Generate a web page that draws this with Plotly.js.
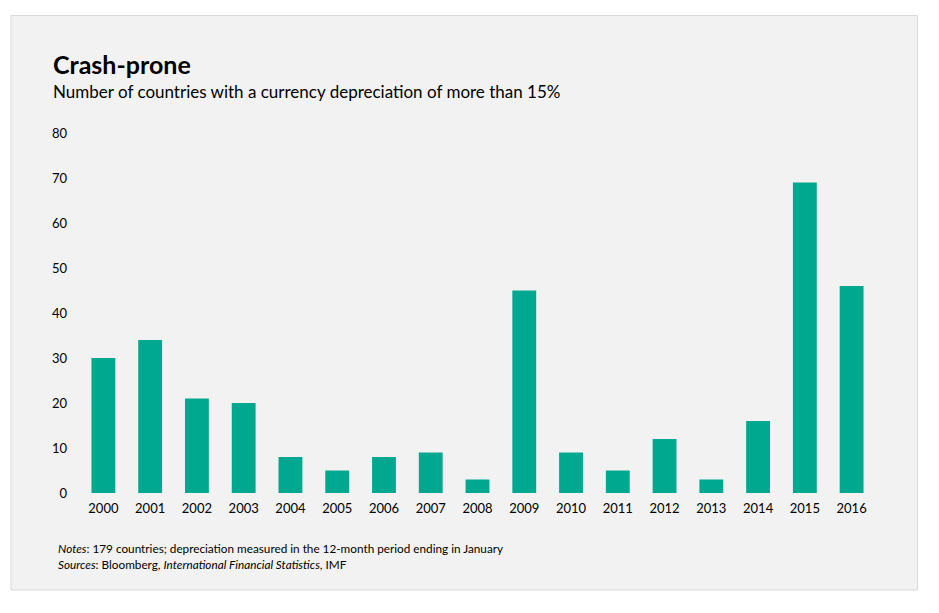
<!DOCTYPE html>
<html>
<head>
<meta charset="utf-8">
<script src="https://cdn.plot.ly/plotly-3.0.1.min.js"></script>
<style>
html,body{margin:0;padding:0;background:#ffffff;}
#chart{width:939px;height:613px;}
</style>
</head>
<body>
<div id="chart"></div>
<script>
var years = ["2000","2001","2002","2003","2004","2005","2006","2007","2008","2009","2010","2011","2012","2013","2014","2015","2016"];
var countries = [30,34,21,20,8,5,8,9,3,45,9,5,12,3,16,69,46];
var yTicks = [0,10,20,30,40,50,60,70,80];

var FONT = "Lato, 'Open Sans', sans-serif";
var L = 79.6, R = 63.6, T = 133, B = 120;
var pw = 939 - L - R, ph = 613 - T - B;
function px(x){ return (x - L) / pw; }
function py(y){ return (613 - B - y) / ph; }

var trace = {
  type: "bar",
  x: years,
  y: countries,
  marker: {color: "#00a88f"},
  hoverinfo: "x+y"
};

var layout = {
  width: 939, height: 613,
  margin: {l: L, r: R, t: T, b: B, pad: 0},
  paper_bgcolor: "#ffffff",
  plot_bgcolor: "rgba(0,0,0,0)",
  bargap: 0.49,
  showlegend: false,
  font: {family: FONT, color: "#000000", size: 13},
  xaxis: {
    type: "category",
    showgrid: false, zeroline: false, showline: false,
    ticks: "", ticklabelstandoff: 6,
    tickfont: {family: FONT, size: 13, color: "#000"}
  },
  yaxis: {
    range: [0, 80],
    tickvals: yTicks,
    showgrid: false, zeroline: false, showline: false,
    ticks: "", ticklabelstandoff: 12,
    tickfont: {family: FONT, size: 13, color: "#000"}
  },
  shapes: [{
    type: "rect", xref: "paper", yref: "paper", layer: "below",
    x0: px(10.5), x1: px(918), y0: py(590), y1: py(15.5),
    fillcolor: "#f2f2f2", line: {color: "#d9d9d9", width: 1}
  }],
  annotations: [
    {text: "<b>Crash-prone</b>", xref: "paper", yref: "paper", x: px(51), y: py(64),
     xanchor: "left", yanchor: "middle", showarrow: false,
     font: {family: FONT, size: 25, color: "#000"}},
    {text: "Number of countries with a currency depreciation of more than 15%", xref: "paper", yref: "paper",
     x: px(51), y: py(92), xanchor: "left", yanchor: "middle", showarrow: false,
     font: {family: FONT, size: 17, color: "#000"}},
    {text: "<i>Notes</i>: 179 countries; depreciation measured in the 12-month period ending in January", xref: "paper", yref: "paper",
     x: px(56), y: py(548), xanchor: "left", yanchor: "middle", showarrow: false,
     font: {family: FONT, size: 11.75, color: "#000"}},
    {text: "<i>Sources</i>: Bloomberg, <i>International Financial Statistics</i>, IMF", xref: "paper", yref: "paper",
     x: px(56), y: py(564), xanchor: "left", yanchor: "middle", showarrow: false,
     font: {family: FONT, size: 11.75, color: "#000"}}
  ]
};

Plotly.newPlot("chart", [trace], layout, {displayModeBar: false, staticPlot: true});
</script>
</body>
</html>
